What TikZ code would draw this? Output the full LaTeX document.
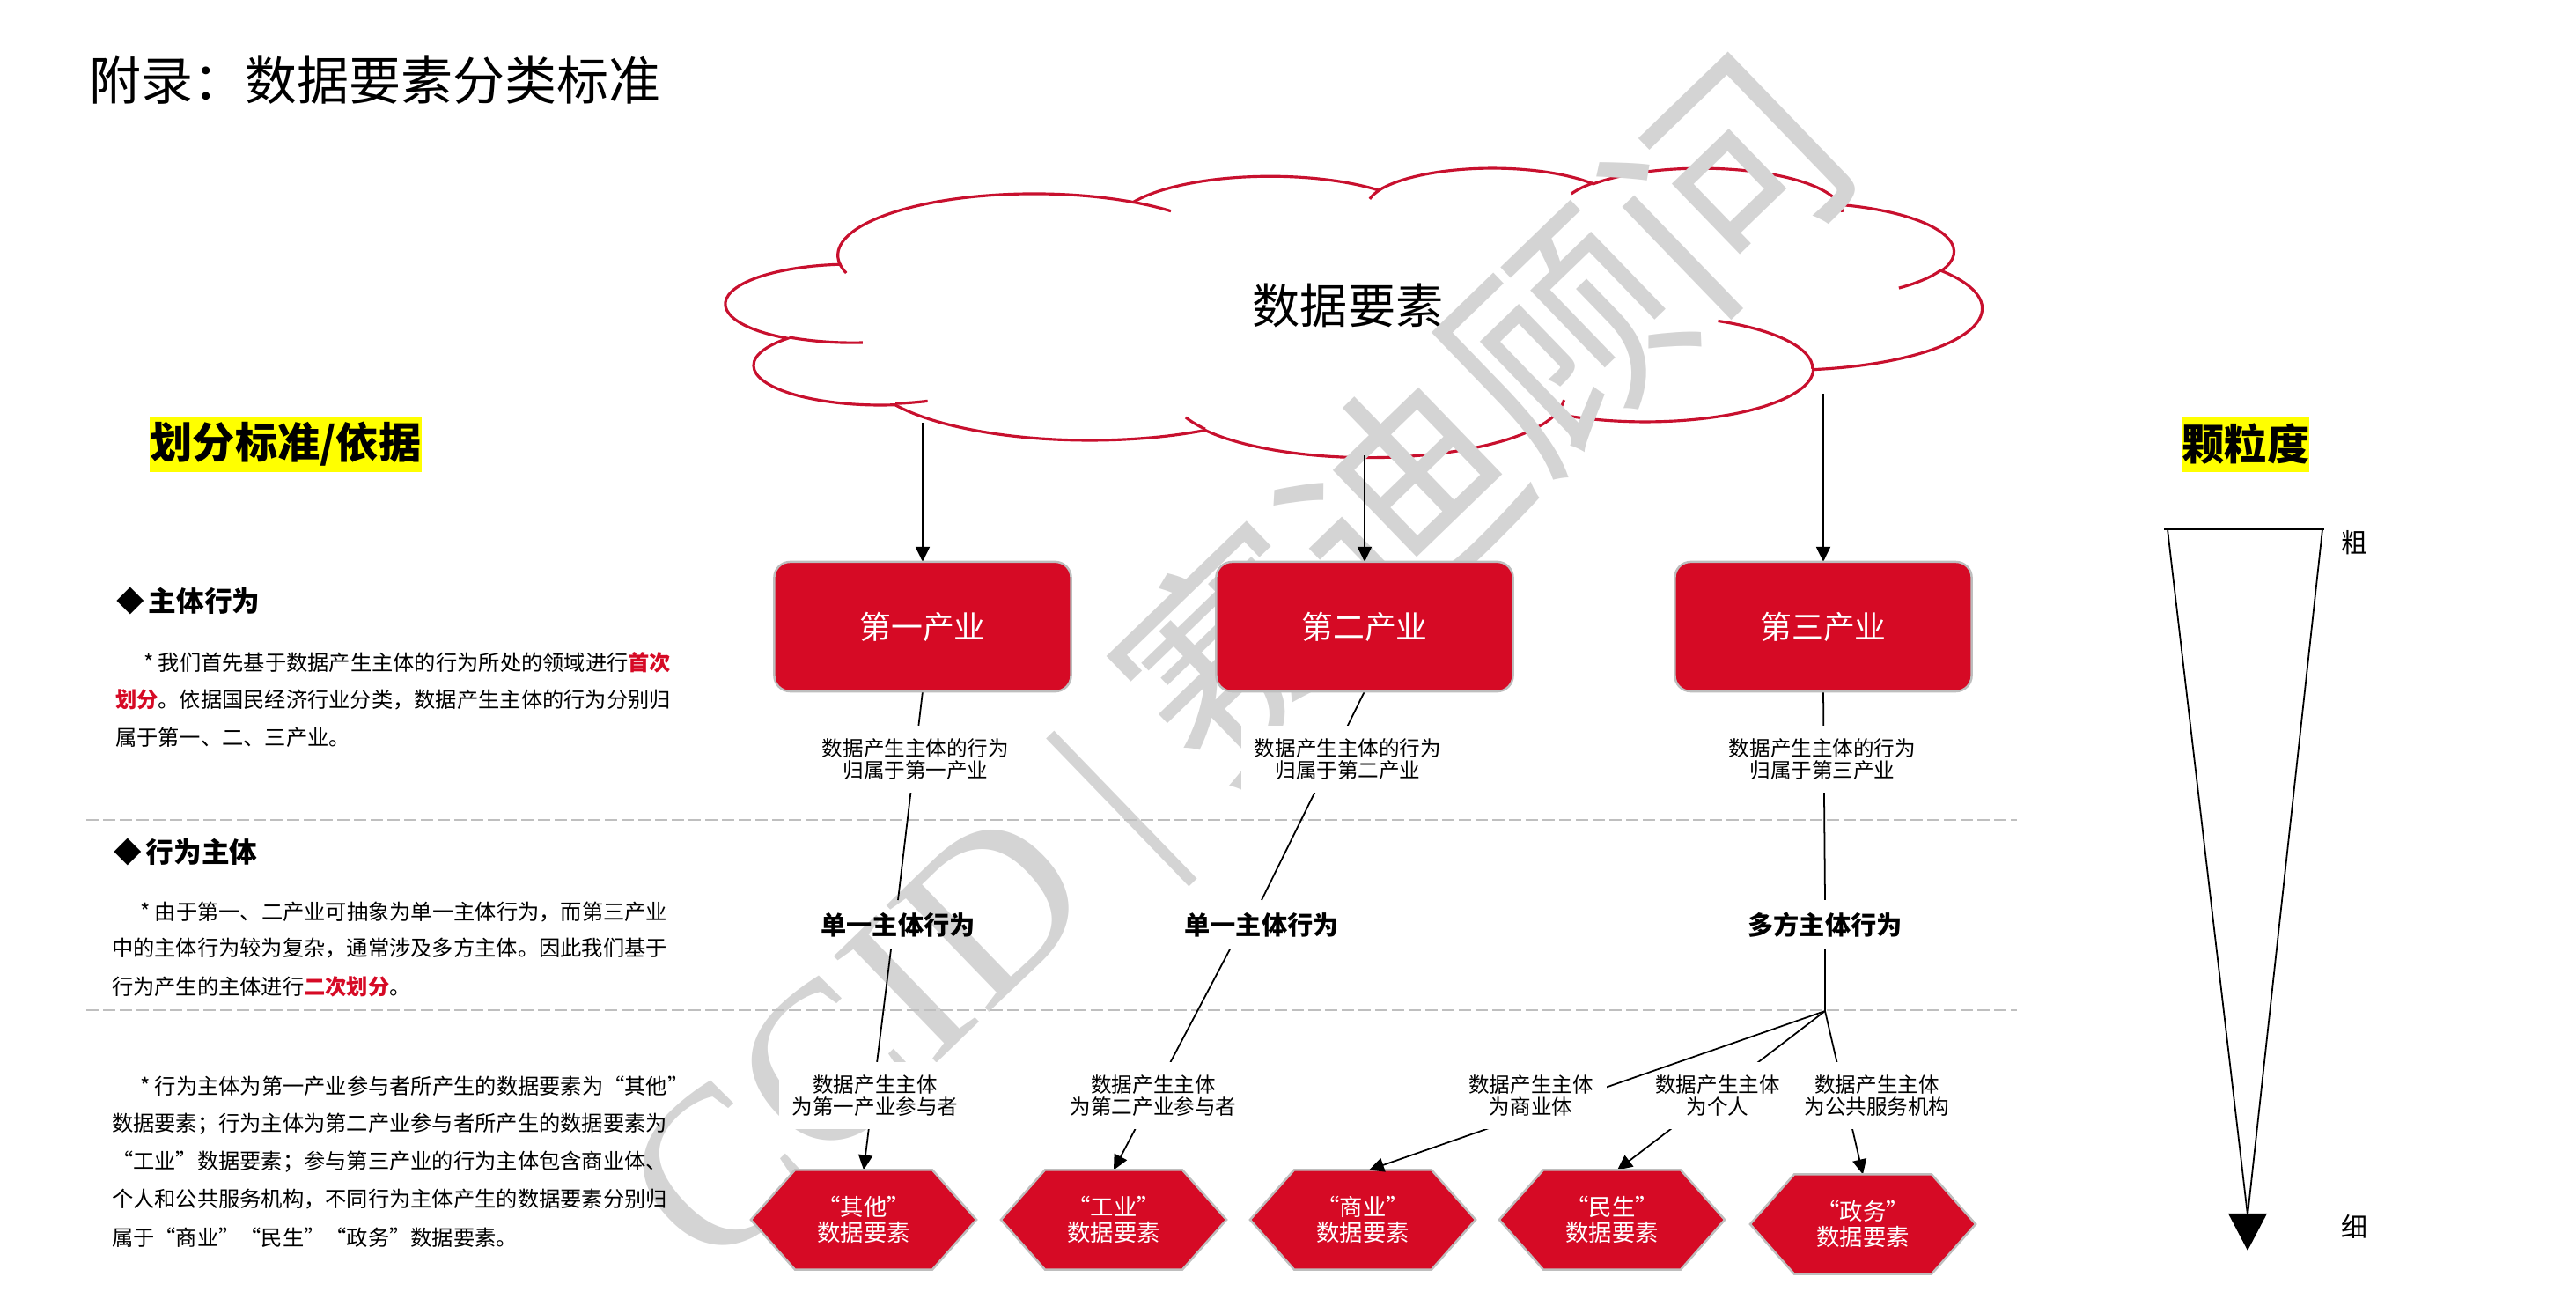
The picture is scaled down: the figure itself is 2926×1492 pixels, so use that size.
\documentclass[tikz,border=0pt]{standalone}
\usepackage{fontspec}
\setmainfont{Noto Sans CJK SC}
\newfontfamily\wmlatin{Liberation Serif}
\usetikzlibrary{arrows.meta,shapes.symbols,calc}
\definecolor{boxred}{RGB}{214,10,37}
\definecolor{cloudred}{RGB}{200,16,46}
\definecolor{edgegray}{RGB}{190,190,190}
\definecolor{dashgray}{RGB}{191,191,191}
\definecolor{hiliteyellow}{RGB}{255,255,0}
\definecolor{wmgray}{RGB}{212,212,212}
\pgfdeclarelayer{bg}
\pgfdeclarelayer{wmlayer}
\pgfdeclarelayer{lines}
\pgfdeclarelayer{over}
\pgfdeclarelayer{top}
\pgfsetlayers{bg,wmlayer,lines,main,over,top}
% OOXML-style elliptic arc: visual angles -> parametric angles
\newcommand\cldprep[6]{%
  \pgfmathsetmacro\cldtmpS{atan2((#3)*sin(#5),(#4)*cos(#5))}%
  \pgfmathsetmacro\cldtmpE{atan2((#3)*sin((#5)+(#6)),(#4)*cos((#5)+(#6)))}%
  \pgfmathsetmacro\cldtmpE{(\cldtmpS)+mod((\cldtmpE)-(\cldtmpS)+720,360)}%
  \xdef#1{\cldtmpS}\xdef#2{\cldtmpE}}
\cldprep\cldOas\cldOae{67.53}{91.90}{-190.4875}{123.7805}
\cldprep\cldObs\cldObe{53.33}{72.67}{-144.1024}{89.9452}
\cldprep\cldOcs\cldOce{43.65}{59.45}{-145.8079}{99.7230}
\cldprep\cldOds\cldOde{48.57}{65.95}{-130.9861}{117.2417}
\cldprep\cldOes\cldOee{53.33}{72.73}{-78.7089}{109.0269}
\cldprep\cldOfs\cldOfe{67.75}{92.20}{-46.2673}{130.2690}
\cldprep\cldOgs\cldOge{57.85}{78.67}{0.6250}{114.0333}
\cldprep\cldOhs\cldOhe{67.52}{92.15}{22.4516}{115.1726}
\cldprep\cldOis\cldOie{77.20}{105.43}{66.2426}{75.7110}
\cldprep\cldOjs\cldOje{43.60}{59.18}{-274.9421}{146.7356}
\cldprep\cldOks\cldOke{43.45}{59.45}{-246.8285}{152.5189}
\cldprep\cldIas\cldIae{43.45}{59.45}{86.7420}{26.4295}
\cldprep\cldIbs\cldIbe{43.60}{59.18}{73.6105}{11.4475}
\cldprep\cldIcs\cldIce{67.52}{92.15}{137.6242}{14.0811}
\cldprep\cldIds\cldIde{67.52}{92.15}{6.4533}{15.9984}
\cldprep\cldIes\cldIee{57.85}{78.67}{-70.2924}{70.9174}
\cldprep\cldIfs\cldIfe{53.33}{72.73}{30.3180}{27.7515}
\cldprep\cldIgs\cldIge{48.57}{65.95}{-13.7443}{14.8589}
\cldprep\cldIhs\cldIhe{48.57}{65.95}{-149.1815}{18.1954}
\cldprep\cldIis\cldIie{43.65}{59.45}{-163.4943}{17.6864}
\cldprep\cldIjs\cldIje{67.53}{91.90}{-66.7070}{12.3194}
\cldprep\cldIks\cldIke{67.53}{91.90}{157.6544}{11.8582}
\begin{document}
\begin{tikzpicture}[x=0.01cm, y=-0.01cm,
  every node/.style={inner sep=0pt, outer sep=0pt},
  ttl/.style={anchor=west, font=\fontsize{16.8pt}{20pt}\selectfont},
  hilite/.style={fill=hiliteyellow, minimum height=0.63cm, font=\bfseries\fontsize{13.7pt}{16pt}\selectfont},
  bullethead/.style={anchor=west, font=\bfseries\fontsize{9pt}{11pt}\selectfont},
  paratext/.style={anchor=west, font=\fontsize{6.9pt}{8pt}\selectfont},
  industry/.style={rectangle, rounded corners=0.18cm, fill=boxred, draw=edgegray, line width=0.7pt,
    minimum width=3.37cm, minimum height=1.47cm, text=white, font=\fontsize{10.2pt}{12pt}\selectfont},
  belong/.style={fill=white, inner sep=0.15cm, align=center, font=\fontsize{6.7pt}{7.1pt}\selectfont},
  actor/.style={inner sep=0.14cm, font=\bfseries\fontsize{8.3pt}{10pt}\selectfont},
  elem/.style={signal, signal to=east and west, signal pointer angle=97, fill=boxred, draw=edgegray,
    line width=0.7pt, minimum width=2.56cm, minimum height=1.13cm, text=white, align=center,
    font=\fontsize{7.5pt}{8.25pt}\selectfont},
  conn/.style={line width=0.5pt, black},
  arr/.style={conn, -{Triangle[length=0.17cm, width=0.16cm]}},
  dashsep/.style={dashgray, line width=0.6pt, dash pattern=on 0.14cm off 0.05cm},
  gran/.style={font=\fontsize{8.5pt}{10pt}\selectfont},
  wm/.style={text=wmgray, font=\fontsize{73pt}{80pt}\selectfont, rotate=44},
  cloudline/.style={draw=cloudred, line width=0.9pt}
]
\useasboundingbox (0,0) rectangle (2926,1492);

% ---------- cloud ----------
\begin{pgfonlayer}{bg}
\begin{scope}[shift={(825,190)}, x=0.032986cm, y=-0.0075926cm]
\path[fill=white, cloudline] (39.00,143.70)
  arc[start angle=\cldOas, end angle=\cldOae, x radius=67.53, y radius=91.90]
  arc[start angle=\cldObs, end angle=\cldObe, x radius=53.33, y radius=72.67]
  arc[start angle=\cldOcs, end angle=\cldOce, x radius=43.65, y radius=59.45]
  arc[start angle=\cldOds, end angle=\cldOde, x radius=48.57, y radius=65.95]
  arc[start angle=\cldOes, end angle=\cldOee, x radius=53.33, y radius=72.73]
  arc[start angle=\cldOfs, end angle=\cldOfe, x radius=67.75, y radius=92.20]
  arc[start angle=\cldOgs, end angle=\cldOge, x radius=57.85, y radius=78.67]
  arc[start angle=\cldOhs, end angle=\cldOhe, x radius=67.52, y radius=92.15]
  arc[start angle=\cldOis, end angle=\cldOie, x radius=77.20, y radius=105.43]
  arc[start angle=\cldOjs, end angle=\cldOje, x radius=43.60, y radius=59.18]
  arc[start angle=\cldOks, end angle=\cldOke, x radius=43.45, y radius=59.45]
  -- cycle;
\draw[cloudline]
  (46.93,261.77) arc[start angle=\cldIas, end angle=\cldIae, x radius=43.45, y radius=59.45]
  (69.28,348.99) arc[start angle=\cldIbs, end angle=\cldIbe, x radius=43.60, y radius=59.18]
  (164.78,390.90) arc[start angle=\cldIcs, end angle=\cldIce, x radius=67.52, y radius=92.15]
  (288.27,347.51) arc[start angle=\cldIds, end angle=\cldIde, x radius=67.52, y radius=92.15]
  (341.29,229.54) arc[start angle=\cldIes, end angle=\cldIee, x radius=57.85, y radius=78.67]
  (417.98,153.54) arc[start angle=\cldIfs, end angle=\cldIfe, x radius=53.33, y radius=72.73]
  (383.24,54.26) arc[start angle=\cldIgs, end angle=\cldIge, x radius=48.57, y radius=65.95]
  (290.78,39.52) arc[start angle=\cldIhs, end angle=\cldIhe, x radius=48.57, y radius=65.95]
  (221.41,47.20) arc[start angle=\cldIis, end angle=\cldIie, x radius=43.65, y radius=59.45]
  (140.00,51.92) arc[start angle=\cldIjs, end angle=\cldIje, x radius=67.53, y radius=91.90]
  (41.27,157.89) arc[start angle=\cldIks, end angle=\cldIke, x radius=67.53, y radius=91.90];
\end{scope}
\end{pgfonlayer}

% ---------- watermark ----------
\begin{pgfonlayer}{wmlayer}
\node[wm] (wmark) at (1409,761) {{\wmlatin CCID | }赛迪顾问};
\end{pgfonlayer}

% ---------- title and left column ----------
\node[ttl] (title) at (101,91.5) {附录：数据要素分类标准};
\node[hilite, minimum width=3.09cm] (crit) at (324.5,504.5) {划分标准/依据};
\node[hilite, minimum width=1.44cm] (granh) at (2551,504.5) {颗粒度};

\node[bullethead] (hd1) at (132,682) {◆\hspace{0.16em}主体行为};
\node[paratext] (p1a) at (163,752) {* 我们首先基于数据产生主体的行为所处的领域进行{\color{boxred}\bfseries 首次}};
\node[paratext] (p1b) at (131,794) {{\color{boxred}\bfseries 划分}。依据国民经济行业分类，数据产生主体的行为分别归};
\node[paratext] (p1c) at (131,837) {属于第一、二、三产业。};

\node[bullethead] (hd2) at (129,967) {◆\hspace{0.16em}行为主体};
\node[paratext] (p2a) at (159,1036) {* 由于第一、二产业可抽象为单一主体行为，而第三产业};
\node[paratext] (p2b) at (127,1077) {中的主体行为较为复杂，通常涉及多方主体。因此我们基于};
\node[paratext] (p2c) at (127,1120) {行为产生的主体进行{\color{boxred}\bfseries 二次划分}。};

\node[paratext] (p3a) at (159,1233) {* 行为主体为第一产业参与者所产生的数据要素为“其他”};
\node[paratext] (p3b) at (127,1276) {数据要素；行为主体为第二产业参与者所产生的数据要素为};
\node[paratext] (p3c) at (127,1319) {“工业”数据要素；参与第三产业的行为主体包含商业体、};
\node[paratext] (p3d) at (127,1362) {个人和公共服务机构，不同行为主体产生的数据要素分别归};
\node[paratext] (p3e) at (127,1405) {属于“商业”“民生”“政务”数据要素。};

% ---------- separators ----------
\begin{pgfonlayer}{lines}
\draw[dashsep] (98,931) -- (2291,931);
\draw[dashsep] (98,1147) -- (2291,1147);
\end{pgfonlayer}

% ---------- diagram nodes ----------
\node[font=\fontsize{15.4pt}{18pt}\selectfont] (cloudtxt) at (1531,347) {数据要素};
\coordinate (c1) at (1048,480);
\coordinate (c2) at (1550,517);
\coordinate (c3) at (2071,447);

\node[industry] (b1) at (1048,711.5) {第一产业};
\node[industry] (b2) at (1550,711.5) {第二产业};
\node[industry] (b3) at (2071,711.5) {第三产业};

\node[belong] (l1) at (1040,862) {数据产生主体的行为\\归属于第一产业};
\node[belong] (l2) at (1531,862) {数据产生主体的行为\\归属于第二产业};
\node[belong] (l3) at (2070,862) {数据产生主体的行为\\归属于第三产业};

\node[actor] (s1) at (1020,1050) {单一主体行为};
\node[actor] (s2) at (1433,1050) {单一主体行为};
\node[actor] (s3) at (2073,1050) {多方主体行为};
\coordinate (j) at (2073,1148);

\node[belong] (m1) at (994,1244) {数据产生主体\\为第一产业参与者};
\node[belong] (m2) at (1310,1244) {数据产生主体\\为第二产业参与者};
\node[belong] (m4) at (1951,1244) {数据产生主体\\为个人};
\node[belong] (m5) at (2132,1244) {数据产生主体\\为公共服务机构};
\begin{pgfonlayer}{top}
\node[belong] (m3) at (1739,1244) {数据产生主体\\为商业体};
\end{pgfonlayer}

\node[elem] (h1) at (981,1385) {“其他”\\数据要素};
\node[elem] (h2) at (1265,1385) {“工业”\\数据要素};
\node[elem] (h3) at (1548,1385) {“商业”\\数据要素};
\node[elem] (h4) at (1831,1385) {“民生”\\数据要素};
\node[elem] (h5) at (2116,1390) {“政务”\\数据要素};

% ---------- connectors ----------
\begin{pgfonlayer}{lines}
\draw[arr] (c1) -- (b1.north);
\draw[arr] (c2) -- (b2.north);
\draw[arr] (c3) -- (b3.north);
\draw[conn] (b1.south) -- (s1.north);
\draw[conn] (b2.south) -- (s2.north);
\draw[conn] (b3.south) -- (s3.north);
\draw[arr] ([xshift=-0.08cm]s1.south) -- (h1.north);
\draw[arr] ([xshift=-0.36cm]s2.south) -- (h2.north);
\draw[conn] (s3.south) -- (j);
\draw[arr] (j) -- ([xshift=0.06cm]h4.north);
\draw[arr] (j) -- (h5.north);
\end{pgfonlayer}
\begin{pgfonlayer}{over}
\draw[arr] (j) -- ([xshift=0.07cm]h3.north);
\end{pgfonlayer}

% ---------- granularity funnel ----------
\draw[line width=0.5pt] (2458,601) -- (2640,601);
\draw[line width=0.5pt] (2462,601) -- (2553,1380) -- (2638,601);
\fill[black] (2531,1378) -- (2575,1378) -- (2553,1420) -- cycle;
\node[gran] (coarse) at (2674,616) {粗};
\node[gran] (fine) at (2674,1393) {细};
\end{tikzpicture}
\end{document}
